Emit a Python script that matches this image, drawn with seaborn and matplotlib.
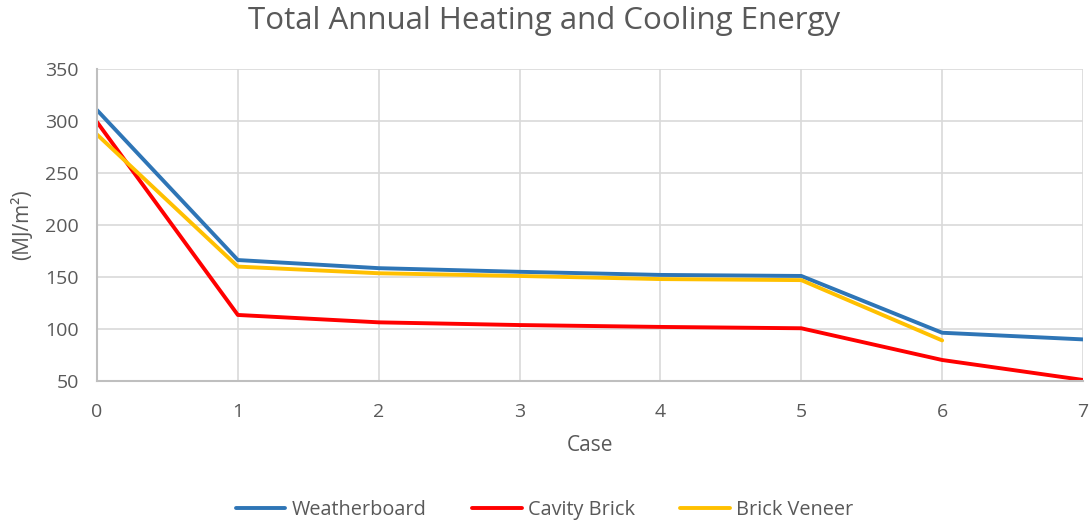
import matplotlib
matplotlib.use("Agg")
import matplotlib.pyplot as plt
import seaborn as sns
import pandas as pd
import numpy as np
from matplotlib.lines import Line2D

cases = [0, 1, 2, 3, 4, 5, 6, 7]
weatherboard = [310.5, 166.3, 158.5, 155.0, 152.0, 151.0, 96.4, 90.0]
cavity_brick = [299.0, 113.5, 106.4, 103.8, 102.0, 100.7, 70.2, 51.0]
brick_veneer = [287.0, 160.0, 153.6, 151.0, 148.0, 147.0, 89.0]
series_names = ["Weatherboard", "Cavity Brick", "Brick Veneer"]
colors = ["#2E75B6", "#FF0000", "#FFC000"]

rows = []
for name, vals in zip(series_names, [weatherboard, cavity_brick, brick_veneer]):
    for c, v in zip(cases, vals):
        rows.append({"Case": c, "Value": v, "Series": name})
df = pd.DataFrame(rows)

sns.set_theme(style="white")
plt.rcParams["font.family"] = ["Open Sans", "DejaVu Sans"]

fig = plt.figure(figsize=(10.89, 5.25), dpi=100)
ax = fig.add_axes([97/1089, 1 - 381/525, (1083-97)/1089, (381-69)/525])

sns.lineplot(data=df, x="Case", y="Value", hue="Series", palette=dict(zip(series_names, colors)),
             hue_order=series_names, linewidth=2.8, ax=ax, legend=False, sort=True)

ax.set_xlim(0, 7)
ax.set_ylim(50, 350)
ax.set_xticks(cases)
ax.set_yticks(np.arange(50, 351, 50))
ax.grid(True, color="#d9d9d9", linewidth=1.2)
ax.set_axisbelow(True)
for s in ["top", "right"]:
    ax.spines[s].set_visible(False)
for s in ["left", "bottom"]:
    ax.spines[s].set_color("#bfbfbf")
    ax.spines[s].set_linewidth(1.5)
ax.tick_params(axis="both", colors="#595959", labelsize=14, length=0)
ax.tick_params(axis="y", pad=13)
ax.tick_params(axis="x", pad=16)
ax.set_xlabel("Case", fontsize=15, color="#595959", labelpad=10)
ax.set_ylabel("(MJ/m²)", fontsize=15, color="#595959", labelpad=9)
fig.text(0.5, 1 - 21/525, "Total Annual Heating and Cooling Energy", ha="center", va="center",
         fontsize=22.5, color="#595959")

handles = [Line2D([0], [0], color=c, linewidth=2.8) for c in colors]
fig.legend(handles, series_names, loc="center", bbox_to_anchor=(0.5, 1 - 510/525), ncol=3,
           frameon=False, fontsize=14.3, handlelength=2.5, handletextpad=0.3, columnspacing=2.3,
           labelcolor="#595959")

fig.savefig("out.png", dpi=100)
